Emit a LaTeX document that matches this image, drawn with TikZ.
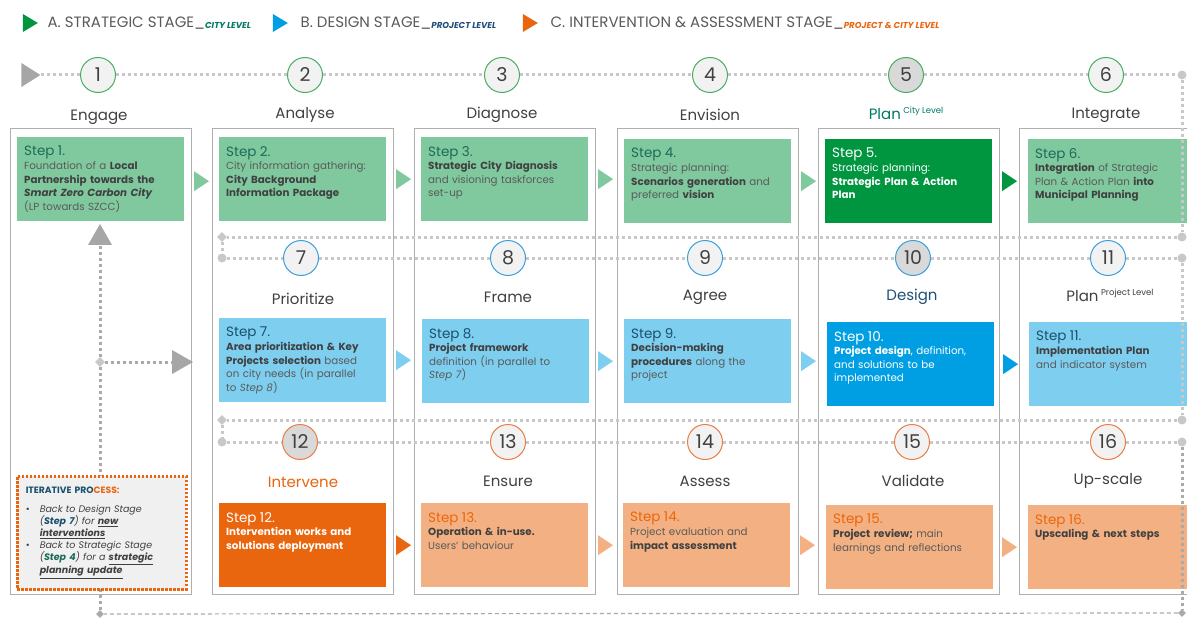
\documentclass[tikz,border=0pt]{standalone}
\usepackage{fontspec}
\setmainfont{Poppins}
\usetikzlibrary{shapes,arrows,positioning,calc}

\definecolor{lgreen}{RGB}{128,201,158}
\definecolor{dgreen}{RGB}{0,150,64}
\definecolor{lblue}{RGB}{126,206,240}
\definecolor{dblue}{RGB}{0,159,227}
\definecolor{lorange}{RGB}{243,177,131}
\definecolor{dorange}{RGB}{233,101,14}
\definecolor{txtgray}{RGB}{90,90,90}
\definecolor{txtdark}{RGB}{64,64,64}
\definecolor{stepgreen}{RGB}{27,107,90}
\definecolor{stepblue}{RGB}{25,80,110}
\definecolor{steporange}{RGB}{236,102,8}
\definecolor{plangreen}{RGB}{0,120,100}
\definecolor{designblue}{RGB}{31,78,121}
\definecolor{linegray}{RGB}{200,200,200}
\definecolor{darkline}{RGB}{170,170,170}
\definecolor{arrgray}{RGB}{166,166,166}
\definecolor{framegray}{RGB}{175,175,175}
\definecolor{circgreen}{RGB}{70,175,100}
\definecolor{circblue}{RGB}{60,160,220}
\definecolor{circorange}{RGB}{235,125,70}
\definecolor{circfill}{RGB}{242,242,242}
\definecolor{circdark}{RGB}{217,217,217}
\definecolor{itfill}{RGB}{240,240,240}

\newcommand{\stp}[3]{\vbox to 66pt{\noindent{\color{#1}\fontsize{13.5}{14}\selectfont #2}\par #3\par\vfil}}
\newcommand{\bt}[1]{\textbf{\color{txtdark}#1}}
\newcommand{\lvl}[2]{\raisebox{-1.5pt}{\fontsize{8.6}{8.6}\selectfont\bfseries\itshape\color{#1}#2}}
\newcommand{\suplvl}[1]{\raisebox{6pt}{\fontsize{8.5}{9}\selectfont #1}}

\tikzstyle{colframe}=[draw=framegray, line width=0.8pt, fill=white, anchor=north west,
    minimum width=181pt, minimum height=466pt, inner sep=0pt]
\tikzstyle{numc}=[circle, line width=1pt, fill=circfill, minimum size=35pt,
    inner sep=0pt, text=txtdark, font=\fontsize{19}{19}\selectfont]
\tikzstyle{lbl}=[text=txtdark, font=\fontsize{15}{17}\selectfont, inner sep=0pt]
\tikzstyle{stepbox}=[anchor=north west, minimum width=167pt, minimum height=84pt,
    text width=153pt, inner xsep=7pt, inner ysep=8pt, align=left, text=txtgray,
    font=\fontsize{10.3}{13.6}\selectfont]
\tikzstyle{sg}=[stepbox, fill=lgreen]
\tikzstyle{sgd}=[stepbox, fill=dgreen, text=white]
\tikzstyle{sb}=[stepbox, fill=lblue]
\tikzstyle{sbd}=[stepbox, fill=dblue, text=white]
\tikzstyle{so}=[stepbox, fill=lorange]
\tikzstyle{sod}=[stepbox, fill=dorange, text=white]
\tikzstyle{tri}=[isosceles triangle, isosceles triangle stretches, inner sep=0pt,
    minimum width=20pt, minimum height=15pt]
\tikzstyle{bigtri}=[tri, fill=arrgray, minimum width=24pt, minimum height=21pt]
\tikzstyle{legtri}=[tri, minimum width=18pt, minimum height=15pt]
\tikzstyle{legtxt}=[text=txtgray, font=\fontsize{15}{17}\selectfont, inner sep=0pt]
\tikzstyle{dotl}=[linegray, line width=3pt, dash pattern=on 3pt off 3pt]
\tikzstyle{enddot}=[circle, fill=linegray, inner sep=0pt, minimum size=9pt]
\tikzstyle{dia}=[diamond, fill=linegray, inner sep=0pt, minimum size=10pt]
\tikzstyle{iterbox}=[anchor=north west, minimum width=169pt, minimum height=113pt,
    fill=itfill, draw=dorange, line width=2.5pt, dash pattern=on 2.5pt off 1.5pt,
    text width=152pt, inner xsep=8pt, inner ysep=6pt, align=left, text=txtdark,
    font=\fontsize{9.5}{12}\selectfont\itshape]

\begin{document}
\begin{tikzpicture}[x=1pt,y=-1pt]
    \useasboundingbox (0,0) rectangle (1187,618);
    \clip (0,0) rectangle (1187,618);

    %%% legend
    \node (lga)[legtri, fill=dgreen] at (28,23) {};
    \node (lgta)[legtxt, right=9pt of lga] {A. STRATEGIC STAGE\_\lvl{plangreen}{CITY LEVEL}};
    \node (lgb)[legtri, fill=dblue] at (278,23) {};
    \node (lgtb)[legtxt, right=12pt of lgb] {B. DESIGN STAGE\_\lvl{designblue}{PROJECT LEVEL}};
    \node (lgc)[legtri, fill=dorange] at (528,23) {};
    \node (lgtc)[legtxt, right=12pt of lgc] {C. INTERVENTION \& ASSESSMENT STAGE\_\lvl{dorange}{PROJECT \& CITY LEVEL}};

    %%% columns
    \node (col1)[colframe] at (10,128) {};
    \node (col2)[colframe] at (212,128) {};
    \node (col3)[colframe] at (414,128) {};
    \node (col4)[colframe] at (617,128) {};
    \node (col5)[colframe] at (818,128) {};
    \node (col6)[colframe] at (1019,128) {};

    %%% step boxes, row 1
    \path (col1.north west)+(7,9) node (s1)[sg] {\stp{stepgreen}{Step 1.}{Foundation of a \bt{Local}\\ \bt{Partnership towards the}\\ \bt{\itshape Smart Zero Carbon City}\\ (LP towards SZCC)}};
    \path (col2.north west)+(7,9) node (s2)[sg] {\stp{stepgreen}{Step 2.}{City information gathering:\\ \bt{City Background}\\ \bt{Information Package}}};
    \path (col3.north west)+(7,9) node (s3)[sg] {\stp{stepgreen}{Step 3.}{\bt{Strategic City Diagnosis}\\ and visioning taskforces\\ set-up}};
    \path (col4.north west)+(7,11) node (s4)[sg] {\stp{stepgreen}{Step 4.}{Strategic planning:\\ \bt{Scenarios generation} and\\ preferred \bt{vision}}};
    \path (col5.north west)+(7,11) node (s5)[sgd] {\stp{white}{Step 5.}{Strategic planning:\\ \textbf{Strategic Plan \& Action}\\ \textbf{Plan}}};
    \path (col6.north west)+(9,11) node (s6)[sg] {\stp{stepgreen}{Step 6.}{\bt{Integration} of Strategic\\ Plan \& Action Plan \bt{into}\\ \bt{Municipal Planning}}};

    %%% step boxes, row 2
    \path (col2.north west)+(7,190) node (s7)[sb] {\stp{stepblue}{Step 7.}{\bt{Area prioritization \& Key}\\ \bt{Projects selection} based\\ on city needs (in parallel\\ to \textit{Step 8})}};
    \path (col3.north west)+(8,191) node (s8)[sb] {\stp{stepblue}{Step 8.}{\bt{Project framework}\\ definition (in parallel to\\ \textit{Step 7})}};
    \path (col4.north west)+(7,191) node (s9)[sb] {\stp{stepblue}{Step 9.}{\bt{Decision-making}\\ \bt{procedures} along the\\ project}};
    \path (col5.north west)+(9,194) node (s10)[sbd] {\stp{white}{Step 10.}{\textbf{Project design}, definition,\\ and solutions to be\\ implemented}};
    \path (col6.north west)+(10,194) node (s11)[sb] {\stp{stepblue}{Step 11.}{\bt{Implementation Plan}\\ and indicator system}};

    %%% step boxes, row 3
    \path (col2.north west)+(7,375) node (s12)[sod] {\stp{white}{Step 12.}{\textbf{Intervention works and}\\ \textbf{solutions deployment}}};
    \path (col3.north west)+(7,375) node (s13)[so] {\stp{steporange}{Step 13.}{\bt{Operation \& in-use.}\\ Users' behaviour}};
    \path (col4.north west)+(6,375) node (s14)[so] {\stp{steporange}{Step 14.}{Project evaluation and\\ \bt{impact assessment}}};
    \path (col5.north west)+(8,377) node (s15)[so] {\stp{steporange}{Step 15.}{\bt{Project review;} main\\ learnings and reflections}};
    \path (col6.north west)+(9,377) node (s16)[so] {\stp{steporange}{Step 16.}{\bt{Upscaling \& next steps}}};

    %%% arrowheads between boxes
    \path (s1.east)+(15,2) node (t12)[tri, fill=lgreen] {};
    \path (s2.east)+(15,0) node (t23)[tri, fill=lgreen] {};
    \path (s3.east)+(15,0) node (t34)[tri, fill=lgreen] {};
    \path (s4.east)+(15,0) node (t45)[tri, fill=lgreen] {};
    \path (s5.east)+(15,0) node (t56)[tri, fill=dgreen] {};
    \path (s7.east)+(15,0) node (t78)[tri, fill=lblue] {};
    \path (s8.east)+(14,0) node (t89)[tri, fill=lblue] {};
    \path (s9.east)+(15,0) node (t910)[tri, fill=lblue] {};
    \path (s10.east)+(14,0) node (t1011)[tri, fill=dblue] {};
    \path (s12.east)+(15,0) node (t1213)[tri, fill=dorange] {};
    \path (s13.east)+(15,0) node (t1314)[tri, fill=lorange] {};
    \path (s14.east)+(15,0) node (t1415)[tri, fill=lorange] {};
    \path (s15.east)+(14,0) node (t1516)[tri, fill=lorange] {};

    %%% numbers
    \node (n1)[numc, draw=circgreen] at (98,75) {1};
    \node (n2)[numc, draw=circgreen] at (305,75) {2};
    \node (n3)[numc, draw=circgreen] at (502,75) {3};
    \node (n4)[numc, draw=circgreen] at (710,75) {4};
    \node (n5)[numc, draw=circgreen, fill=circdark] at (906,75) {5};
    \node (n6)[numc, draw=circgreen] at (1106,75) {6};
    \node (n7)[numc, draw=circblue] at (301,258) {7};
    \node (n8)[numc, draw=circblue] at (508,258) {8};
    \node (n9)[numc, draw=circblue] at (705,258) {9};
    \node (n10)[numc, draw=circblue, fill=circdark] at (913,258) {10};
    \node (n11)[numc, draw=circblue] at (1108,258) {11};
    \node (n12)[numc, draw=circorange, fill=circdark] at (300,442) {12};
    \node (n13)[numc, draw=circorange] at (508,442) {13};
    \node (n14)[numc, draw=circorange] at (705,442) {14};
    \node (n15)[numc, draw=circorange] at (912,442) {15};
    \node (n16)[numc, draw=circorange] at (1108,442) {16};

    %%% labels
    \path (n1)+(1,42) node (e1)[lbl] {Engage};
    \path (n2)+(0,40) node (e2)[lbl] {Analyse};
    \path (n3)+(0,40) node (e3)[lbl] {Diagnose};
    \path (n4)+(0,40) node (e4)[lbl] {Envision};
    \path (n5)+(0,38) node (e5)[lbl, text=plangreen] {Plan\,\suplvl{City Level}};
    \path (n6)+(0,40) node (e6)[lbl] {Integrate};
    \path (n7)+(2,41) node (e7)[lbl] {Prioritize};
    \path (n8)+(0,39) node (e8)[lbl] {Frame};
    \path (n9)+(0,39) node (e9)[lbl] {Agree};
    \path (n10)+(-1,39) node (e10)[lbl, text=designblue] {Design};
    \path (n11)+(2,37) node (e11)[lbl] {Plan\,\suplvl{Project Level}};
    \path (n12)+(3,40) node (e12)[lbl, text=dorange] {Intervene};
    \path (n13)+(0,39) node (e13)[lbl] {Ensure};
    \path (n14)+(0,39) node (e14)[lbl] {Assess};
    \path (n15)+(1,39) node (e15)[lbl] {Validate};
    \path (n16)+(0,39) node (e16)[lbl] {Up-scale};

    %%% dotted process line
    \node (s0)[bigtri, minimum height=19pt] at (28,75) {};
    \node (r1)[enddot] at (1182,75) {};
    \node (r2)[enddot] at (1182,237) {};
    \node (l2)[dia] at (222,237) {};
    \node (l3)[enddot] at (222,258) {};
    \node (r3)[enddot] at (1182,258) {};
    \node (r4)[enddot] at (1182,420) {};
    \node (l4)[dia] at (222,420) {};
    \node (l5)[enddot] at (222,442) {};
    \node (r5)[enddot] at (1182,442) {};
    \node (r6)[dia, fill=darkline, minimum size=8pt] at (1182,613) {};
    \node (b1)[dia, fill=darkline, minimum size=8pt] at (100,614) {};
    \node (dj)[dia] at (100,362) {};
    \node (ua)[bigtri, shape border rotate=90] at (100,238) {};
    \node (ra)[bigtri] at (179,362) {};

    \draw[dotl] (s0) -- (n1) -- (n2) -- (n3) -- (n4) -- (n5) -- (n6) -- (r1);
    \draw[dotl] (r1) -- (r2);
    \draw[dotl] (r2) -- (l2);
    \draw[dotl] (l2) -- (l3);
    \draw[dotl] (l3) -- (n7) -- (n8) -- (n9) -- (n10) -- (n11) -- (r3);
    \draw[dotl] (r3) -- (r4);
    \draw[dotl] (r4) -- (l4);
    \draw[dotl] (l4) -- (l5);
    \draw[dotl] (l5) -- (n12) -- (n13) -- (n14) -- (n15) -- (n16) -- (r5);
    \draw[dotl, darkline] (r5) -- (r6);
    \draw[darkline, line width=1.2pt, dash pattern=on 4pt off 3pt] (r6) -- (b1);
    \draw[dotl, darkline] (b1) -- (dj);
    \draw[dotl, darkline] (dj) -- (ua);
    \draw[dotl, darkline] (dj) -- (ra);

    %%% iterative process note
    \node (itb)[iterbox] at (16,475) {{\upshape\bfseries\fontsize{9.2}{12}\selectfont\color{stepblue}ITERATIVE PRO\color{dorange}CESS:}\\[7pt]
        \makebox[14pt][l]{\upshape\textbullet}Back to Design Stage\\
        \hspace*{14pt}(\textbf{\color{stepblue}Step 7}) for \underline{\textbf{new}}\\
        \hspace*{14pt}\underline{\textbf{interventions}}\\
        \makebox[14pt][l]{\upshape\textbullet}Back to Strategic Stage\\
        \hspace*{14pt}(\textbf{\color{stepgreen}Step 4}) for a \underline{\textbf{strategic}}\\
        \hspace*{14pt}\underline{\textbf{planning update}}};

\end{tikzpicture}
\end{document}
